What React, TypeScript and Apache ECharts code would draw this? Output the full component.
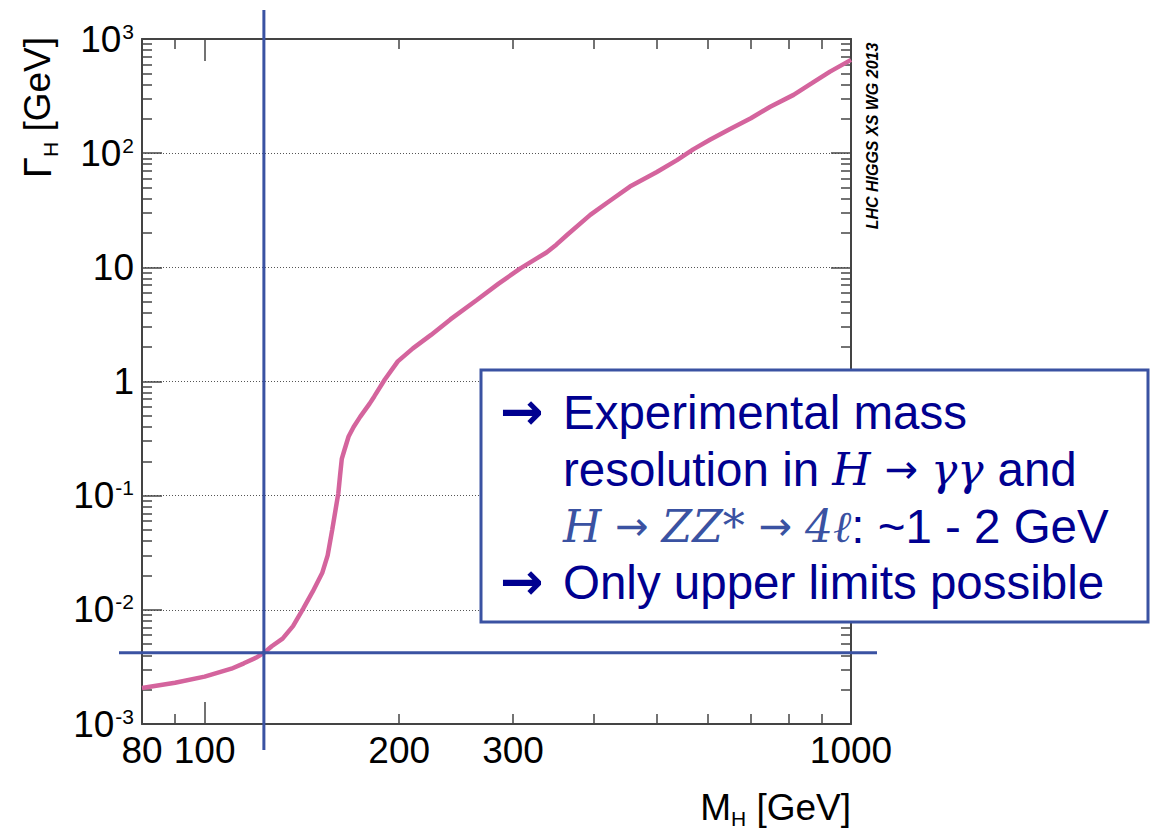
import React, { useEffect, useRef } from 'react';
import * as echarts from 'echarts';

// Higgs total width vs mass
const MASS_GEV = [80, 90, 100, 110, 115, 120, 123.5, 127, 132, 137, 142, 147, 152, 155, 157.5, 160, 161, 162, 163, 164.5, 167, 170, 174, 180, 183, 190, 199, 210, 224, 240, 264, 285, 308, 325, 338, 350, 364, 395, 420, 455, 500, 538, 570, 605, 650, 700, 750, 815, 870, 928, 1000];
const WIDTH_GEV = [0.00207, 0.0023, 0.0026, 0.00305, 0.0034, 0.0038, 0.0042, 0.0048, 0.0056, 0.0072, 0.0102, 0.0145, 0.021, 0.03, 0.05, 0.085, 0.105, 0.15, 0.21, 0.25, 0.33, 0.4, 0.49, 0.64, 0.74, 1.04, 1.5, 1.95, 2.56, 3.5, 5.2, 7.2, 9.8, 11.8, 13.5, 15.8, 19.3, 28.8, 37, 51, 68, 87, 108, 131, 163, 202, 255, 324, 410, 518, 656];

const X_MIN = 80;
const X_MAX = 1000;
const X_LABEL_VALUES = [80, 100, 200, 300, 1000];
const X_MAJOR_TICKS = [100, 1000];
const X_MINOR_TICKS = [90, 200, 300, 400, 500, 600, 700, 800, 900];

const Y_MIN = 0.001;
const Y_MAX = 1000;
const Y_DECADES = [0.001, 0.01, 0.1, 1, 10, 100, 1000];
const Y_MINOR_MULTS = [2, 3, 4, 5, 6, 7, 8, 9];
const Y_MINOR_TICKS = Y_DECADES.slice(0, -1).flatMap((d) => Y_MINOR_MULTS.map((m) => +(d * m).toPrecision(3)));

const CROSS_MASS = 123.5;
const CROSS_WIDTH = 0.0042;

const FONT = 'Liberation Sans, Arial, sans-serif';
const SERIF = 'DejaVu Serif, Liberation Serif, serif';
const ARROW_FONT = 'DejaVu Sans, sans-serif';
const AXIS_COLOR = '#444';
const CURVE_COLOR = '#d4649d';
const BLUE = '#3a52a2';
const NAVY = '#000090';

function xAxis(position: string, ticks: number[], len: number, withLine: boolean, withLabels: boolean) {
  return {
    type: 'log',
    logBase: 10,
    position,
    min: X_MIN,
    max: X_MAX,
    axisLine: { show: withLine, lineStyle: { color: AXIS_COLOR, width: 2 } },
    axisTick: { show: true, inside: true, length: len, customValues: ticks, lineStyle: { color: AXIS_COLOR, width: 1.5 } },
    axisLabel: withLabels
      ? { show: true, customValues: X_LABEL_VALUES, margin: 8, fontSize: 37, fontFamily: FONT, color: '#000', formatter: (v: number) => String(Math.round(v)) }
      : { show: false },
    splitLine: { show: false },
    minorTick: { show: false },
  };
}

function yLabel(v: number) {
  const n = Math.round(Math.log10(v));
  if (n === 0) return '1';
  if (n === 1) return '10';
  return '10{sup|' + n + '}';
}

function yAxis(position: string, ticks: number[], len: number, withLine: boolean, withLabels: boolean, grid: boolean) {
  return {
    type: 'log',
    logBase: 10,
    position,
    min: Y_MIN,
    max: Y_MAX,
    axisLine: { show: withLine, lineStyle: { color: AXIS_COLOR, width: 2 } },
    axisTick: { show: true, inside: true, length: len, customValues: ticks, lineStyle: { color: AXIS_COLOR, width: 1.5 } },
    axisLabel: withLabels
      ? {
          show: true,
          customValues: Y_DECADES,
          margin: 8,
          fontSize: 37,
          fontFamily: FONT,
          color: '#000',
          formatter: yLabel,
          rich: { sup: { fontSize: 21, fontFamily: FONT, color: '#000', verticalAlign: 'top', padding: [0, 0, 0, 1] } },
        }
      : { show: false },
    splitLine: grid ? { show: true, lineStyle: { color: '#555', width: 1, type: [1, 2] } } : { show: false },
    minorTick: { show: false },
  };
}

export default function App() {
  const ref = useRef<HTMLDivElement>(null);
  useEffect(() => {
    document.body.style.margin = '0';
    const chart = echarts.init(ref.current!, undefined, { renderer: 'svg' });
    const option: any = {
      animation: false,
      backgroundColor: '#fff',
      grid: { left: 142, right: 301, top: 39, bottom: 108, containLabel: false },
      xAxis: [
        xAxis('bottom', X_MAJOR_TICKS, 22, true, true),
        xAxis('bottom', X_MINOR_TICKS, 10, false, false),
        xAxis('top', X_MAJOR_TICKS, 22, true, false),
        xAxis('top', X_MINOR_TICKS, 10, false, false),
      ],
      yAxis: [
        yAxis('left', Y_DECADES, 20, true, true, true),
        yAxis('left', Y_MINOR_TICKS, 10, false, false, false),
        yAxis('right', Y_DECADES, 20, true, false, false),
        yAxis('right', Y_MINOR_TICKS, 10, false, false, false),
      ],
      series: [
        {
          type: 'line',
          xAxisIndex: 0,
          yAxisIndex: 0,
          data: MASS_GEV.map((m, i) => [m, WIDTH_GEV[i]]),
          showSymbol: false,
          symbol: 'none',
          smooth: false,
          lineStyle: { color: CURVE_COLOR, width: 4.5 },
          z: 3,
        },
      ],
    };
    chart.setOption(option);
    const [cx, cy] = chart.convertToPixel({ seriesIndex: 0 }, [CROSS_MASS, CROSS_WIDTH]) as number[];

    const lineStyle = { stroke: BLUE, lineWidth: 3 };
    const FS = 47.5;
    const textRich = {
      t: { fontSize: FS, fontFamily: FONT, fill: NAVY, color: NAVY },
      m: { fontSize: 44, fontFamily: SERIF, fontStyle: 'italic', fill: NAVY, color: NAVY },
      a: { fontSize: 40, fontFamily: ARROW_FONT, fill: NAVY, color: NAVY },
      b: { fontSize: 44, fontFamily: SERIF, fontStyle: 'italic', fill: BLUE, color: BLUE },
      ba: { fontSize: 40, fontFamily: ARROW_FONT, fill: BLUE, color: BLUE },
    };
    const boxText = (x: number, baseline: number, text: string) => ({
      type: 'text',
      x,
      y: baseline - 16,
      z: 102,
      style: { text, rich: textRich, align: 'left', verticalAlign: 'middle', textAlign: 'left', textVerticalAlign: 'middle', fontSize: FS, fontFamily: FONT, fill: NAVY },
    });
    const arrow = (baseline: number) => ({
      type: 'text',
      x: 500,
      y: baseline - 17,
      z: 102,
      style: { text: '→', fontSize: 52, fontFamily: ARROW_FONT, fontWeight: 'bold', fill: NAVY, align: 'left', verticalAlign: 'middle', textAlign: 'left', textVerticalAlign: 'middle' },
    });

    const titleRich = (lh: number) => ({
      t: { fontSize: 37, fontFamily: FONT, fill: '#000', color: '#000', lineHeight: lh, verticalAlign: 'top' },
      g: { fontSize: 38, fontFamily: FONT, fill: '#000', color: '#000', lineHeight: lh, verticalAlign: 'top' },
      s: { fontSize: 21, fontFamily: FONT, fill: '#000', color: '#000', lineHeight: 21, verticalAlign: 'bottom' },
    });

    chart.setOption({
      graphic: [
        { type: 'line', z: 100, shape: { x1: cx, y1: 10, x2: cx, y2: 750 }, style: lineStyle },
        { type: 'line', z: 100, shape: { x1: 119, y1: cy, x2: 877, y2: cy }, style: lineStyle },
        {
          type: 'rect',
          z: 101,
          shape: { x: 481, y: 370, width: 667, height: 252 },
          style: { fill: '#fff', stroke: BLUE, lineWidth: 3 },
        },
        arrow(428),
        boxText(563, 428, '{t|Experimental mass}'),
        boxText(563, 485, '{t|resolution in }{m|H }{a|→ }{m|γγ }{t|and}'),
        boxText(563, 542, '{b|H }{ba|→ }{b|ZZ* }{ba|→ }{b|4ℓ}{t|: ~1 - 2 GeV}'),
        arrow(598),
        boxText(563, 598, '{t|Only upper limits possible}'),
        // y axis title
        {
          type: 'text',
          x: 19,
          y: 37,
          rotation: Math.PI / 2,
          z: 102,
          style: {
            text: '{g|Γ}{s|H}{t| [GeV]}',
            align: 'right',
            verticalAlign: 'top',
            textAlign: 'right',
            textVerticalAlign: 'top',
            rich: titleRich(42),
          },
        },
        // x axis title
        {
          type: 'text',
          x: 851,
          y: 789,
          z: 102,
          style: {
            text: '{t|M}{s|H}{t| [GeV]}',
            align: 'right',
            verticalAlign: 'top',
            textAlign: 'right',
            textVerticalAlign: 'top',
            rich: titleRich(40),
          },
        },
        {
          type: 'text',
          x: 872,
          y: 136,
          rotation: Math.PI / 2,
          z: 102,
          style: {
            text: 'LHC HIGGS XS WG 2013',
            fontSize: 16,
            fontWeight: 'bold',
            fontStyle: 'italic',
            fontFamily: FONT,
            fill: '#000',
            align: 'center',
            verticalAlign: 'middle',
            textAlign: 'center',
            textVerticalAlign: 'middle',
          },
        },
      ],
    });
    return () => chart.dispose();
  }, []);
  return <div ref={ref} style={{ width: 1152, height: 832 }} />;
}
